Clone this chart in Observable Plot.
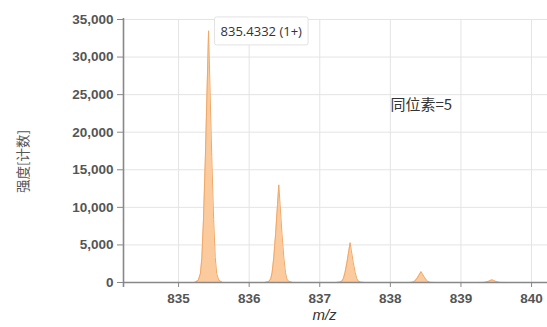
<!DOCTYPE html>
<html><head><meta charset="utf-8">
<script src="https://cdn.jsdelivr.net/npm/d3@7"></script>
<script src="https://cdn.jsdelivr.net/npm/@observablehq/plot@0.6"></script>
<style>body{margin:0;background:#fff}</style>
</head><body><div id="chart"></div>
<script>
// m/z profile
const peak1Mz = [835.225,835.280,835.310,835.330,835.353,835.380,835.407,835.425,835.443,835.470,835.497,835.520,835.540,835.570,835.625];
const peak1I  = [0,300,1200,3300,8400,16800,26800,33500,26800,16800,8400,3300,1200,300,0];
const peak2Mz = [836.220,836.275,836.305,836.325,836.348,836.375,836.402,836.420,836.438,836.465,836.492,836.515,836.535,836.565,836.620];
const peak2I  = [0,120,450,1300,3250,6500,10400,13000,10400,6500,3250,1300,450,120,0];
const peak3Mz = [837.230,837.285,837.315,837.335,837.358,837.385,837.412,837.430,837.448,837.475,837.502,837.525,837.545,837.575,837.630];
const peak3I  = [0,50,190,530,1330,2650,4240,5300,4240,2650,1330,530,190,50,0];
const peak4Mz = [838.235,838.290,838.320,838.340,838.363,838.390,838.417,838.435,838.453,838.480,838.507,838.530,838.550,838.580,838.635];
const peak4I  = [0,15,50,150,360,720,1160,1450,1160,720,360,150,50,15,0];
const peak5Mz = [839.240,839.295,839.325,839.345,839.368,839.395,839.422,839.440,839.458,839.485,839.512,839.535,839.555,839.585,839.640];
const peak5I  = [0,5,15,40,90,180,290,350,290,180,90,40,15,5,0];
const edgeMz = [834.22, 840.226];
const edgeI  = [0, 0];

const xDomain = [834.22, 840.226];
const yDomain = [0, 35000];
const xTicks = [835, 836, 837, 838, 839, 840];
const yTicks = [0, 5000, 10000, 15000, 20000, 25000, 30000, 35000];
const peakLabel = ["835.4332 (1+)"];
const peakLabelMz = [835.425];
const peakLabelI = [33500];
const isotopeText = ["同位素=5"];
const yLabel = ["强度[计数]"];
const xLabel = ["m/z"];

const mzAll = [...edgeMz.slice(0,1), ...peak1Mz, ...peak2Mz, ...peak3Mz, ...peak4Mz, ...peak5Mz, ...edgeMz.slice(1)];
const iAll  = [...edgeI.slice(0,1), ...peak1I, ...peak2I, ...peak3I, ...peak4I, ...peak5I, ...edgeI.slice(1)];
const data = mzAll.map((mz, k) => ({mz, intensity: iAll[k]}));
const labelData = peakLabel.map((t, k) => ({t, mz: peakLabelMz[k], intensity: peakLabelI[k]}));

const chart = Plot.plot({
  width: 547, height: 327,
  marginLeft: 123, marginRight: 0, marginTop: 19, marginBottom: 45,
  style: {fontFamily: "Liberation Sans, Arial, sans-serif", fontSize: "13.5px", background: "#fff"},
  x: {domain: xDomain, label: null},
  y: {domain: yDomain, label: null},
  marks: [
    Plot.gridX(xTicks, {stroke: "#e4e4e4", strokeOpacity: 1}),
    Plot.gridY(yTicks, {stroke: "#e4e4e4", strokeOpacity: 1}),
    Plot.areaY(data, {x: "mz", y: "intensity", fill: "#fccb9d", fillOpacity: 1, curve: "linear"}),
    Plot.lineY(data, {x: "mz", y: "intensity", stroke: "#efa868", strokeWidth: 1, curve: "linear"}),
    Plot.ruleY([0], {stroke: "#888", strokeWidth: 1.6}),
    Plot.ruleX(xDomain.slice(0,1), {stroke: "#888", strokeWidth: 1.6, insetBottom: -5, insetTop: -1}),
    Plot.axisY({ticks: yTicks, tickFormat: d3.format(","), tickSize: 6, tickPadding: 4, label: null, stroke: "#888", fill: "#555", fontWeight: "bold"}),
    Plot.axisX({ticks: xTicks, tickFormat: d => String(d), tickSize: 5, tickPadding: 6, label: null, stroke: "#888", fill: "#555", fontWeight: "bold"}),
    Plot.text(labelData, {x: "mz", y: "intensity", text: "t", textAnchor: "start", lineAnchor: "middle", dx: 12, dy: 1, fill: "#333", fontSize: 13, fontFamily: "Open Sans, sans-serif", className: "peaklabel"}),
    Plot.text(isotopeText, {frameAnchor: "top-right", textAnchor: "start", lineAnchor: "middle", dx: -157, dy: 86, fill: "#333", fontSize: 15, fontFamily: "Noto Sans CJK SC, sans-serif"}),
    Plot.text(yLabel, {frameAnchor: "left", rotate: -90, dx: -100, dy: 42, fill: "#555", fontSize: 13.5, fontFamily: "Noto Sans CJK SC, sans-serif"}),
    Plot.text(xLabel, {frameAnchor: "bottom", dx: -11, dy: 37, fill: "#333", fontSize: 15, fontStyle: "italic", fontFamily: "Liberation Sans, Arial, sans-serif"})
  ]
});
document.getElementById("chart").appendChild(chart);

// white box with a light border behind the peak label
d3.select(chart).selectAll(".peaklabel text").each(function() {
  const b = this.getBBox();
  const g = this.parentNode;
  const tr = this.getAttribute("transform");
  const r = document.createElementNS("http://www.w3.org/2000/svg", "rect");
  r.setAttribute("x", b.x - 6); r.setAttribute("y", b.y - 5);
  r.setAttribute("width", b.width + 12); r.setAttribute("height", b.height + 10);
  r.setAttribute("rx", 2);
  r.setAttribute("fill", "#fff"); r.setAttribute("stroke", "#e2e2e2");
  if (tr) r.setAttribute("transform", tr);
  g.insertBefore(r, this);
});
</script>
</body></html>
